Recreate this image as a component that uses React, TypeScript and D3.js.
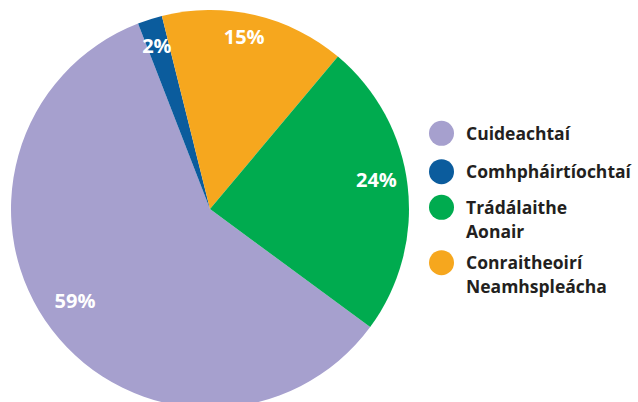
import React from "react";
import * as d3 from "d3";

const categories = ["Cuideachtaí", "Comhpháirtíochtaí", "Trádálaithe Aonair", "Conraitheoirí Neamhspleácha"];
const legendLines = [["Cuideachtaí"], ["Comhpháirtíochtaí"], ["Trádálaithe", "Aonair"], ["Conraitheoirí", "Neamhspleácha"]];
const values = [59, 2, 24, 15];
const colors = ["#A6A0CE", "#0B5C9D", "#00AB4F", "#F6A71E"];
// drawing order clockwise starting at the Cuideachtaí slice
const pieOrder = [0, 1, 3, 2];

// layout: label placement per category (radius in px, angle nudge in degrees)
const labelRadius = [163, 172, 169, 176];
const labelNudgeDeg = [3.3, -0.4, -3.2, -1.8];

const W = 638;
const H = 402;
const cx = 210;
const cy = 209;
const R = 199;
const startDeg = 126.4;

export default function App() {
  const data = pieOrder.map((i) => ({ i, name: categories[i], value: values[i], color: colors[i] }));
  const pie = d3
    .pie<any>()
    .sort(null)
    .value((d: any) => d.value)
    .startAngle((startDeg * Math.PI) / 180)
    .endAngle(((startDeg + 360) * Math.PI) / 180);
  const arcs = pie(data);
  const arc = d3.arc<any>().innerRadius(0).outerRadius(R);
  const legendY = [133.3, 171.7, 207.3, 262.7];
  const fontFamily = "'Open Sans', 'Noto Sans', sans-serif";
  return (
    <svg width={W} height={H} style={{ position: "absolute", left: 0, top: 0, background: "#fff" }}>
      <g transform={`translate(${cx},${cy})`}>
        {arcs.map((a, k) => (
          <path key={k} d={arc(a) as string} fill={a.data.color} />
        ))}
        {arcs.map((a, k) => {
          const i = a.data.i;
          const r = labelRadius[i];
          const la = (a.startAngle + a.endAngle) / 2 + (labelNudgeDeg[i] * Math.PI) / 180;
          const x = r * Math.sin(la);
          const y = -r * Math.cos(la);
          return (
            <text
              key={"l" + k}
              x={x}
              y={y}
              dy="0.36em"
              textAnchor="middle"
              fill="#fff"
              fontFamily={fontFamily}
              fontWeight={700}
              fontSize={20}
            >
              {a.data.value}%
            </text>
          );
        })}
      </g>
      <g>
        {legendLines.map((lines, i) => (
          <g key={i}>
            <circle cx={441.5} cy={legendY[i]} r={12.5} fill={colors[i]} />
            {lines.map((ln, j) => (
              <text
                key={j}
                x={466}
                y={legendY[i] + 6.5 + j * 24.2}
                fill="#231F20"
                fontFamily={fontFamily}
                fontWeight={700}
                fontSize={17.5}
              >
                {ln}
              </text>
            ))}
          </g>
        ))}
      </g>
    </svg>
  );
}
